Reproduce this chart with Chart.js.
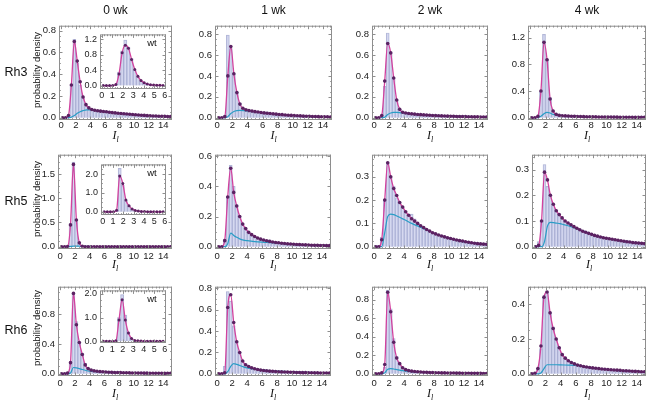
<!DOCTYPE html>
<html>
<head>
<meta charset="utf-8">
<script src="https://cdn.jsdelivr.net/npm/chart.js@4.4.1/dist/chart.umd.min.js"></script>
<style>
  body { margin: 0; width: 651px; height: 403px; position: relative; overflow: hidden; background: #fff;
         font-family: "Liberation Sans", Arial, sans-serif; color: #111; }
  .panel { position: absolute; }
  .lbl { position: absolute; transform: translate(-50%, -50%); white-space: nowrap; }
  .col { font-size: 12px; }
  .row { font-size: 12.5px; }
  .pd { font-size: 9.5px; transform: translate(-50%, -50%) rotate(-90deg); }
  .il { font-family: "Liberation Serif", "Times New Roman", serif; font-style: italic; font-size: 12px; }
  .il sub { font-size: 8px; vertical-align: -3px; }
  .wt { font-size: 9.5px; }
</style>
</head>
<body>
<script>
// bin centres: main panels 0.4 wide, wt insets 0.3 wide
const binX = [0.2, 0.6, 1.0, 1.4, 1.8, 2.2, 2.6, 3.0, 3.4, 3.8,
              4.2, 4.6, 5.0, 5.4, 5.8, 6.2, 6.6, 7.0, 7.4, 7.8,
              8.2, 8.6, 9.0, 9.4, 9.8, 10.2, 10.6, 11.0, 11.4, 11.8,
              12.2, 12.6, 13.0, 13.4, 13.8, 14.2, 14.6, 15.0];
const insetX = [0.15, 0.45, 0.75, 1.05, 1.35, 1.65, 1.95, 2.25, 2.55, 2.85,
                3.15, 3.45, 3.75, 4.05, 4.35, 4.65, 4.95, 5.25, 5.55, 5.85];
const compX = [0, 1.0, 1.4, 1.8, 2.2, 2.6, 3.0, 3.5, 4, 5, 6, 7, 8, 10, 12, 15];

const weeks = ['0 wk', '1 wk', '2 wk', '4 wk'];
const rhodopsins = ['Rh3', 'Rh5', 'Rh6'];
const xTicks = [0, 2, 4, 6, 8, 10, 12, 14];
const insetXTicks = [0, 1, 2, 3, 4, 5, 6];
const yTicks = [
  [[0, 0.2, 0.4, 0.6, 0.8], [0, 0.2, 0.4, 0.6, 0.8], [0, 0.2, 0.4, 0.6, 0.8], [0, 0.4, 0.8, 1.2]],
  [[0, 0.5, 1.0, 1.5], [0, 0.2, 0.4, 0.6], [0, 0.1, 0.2, 0.3], [0, 0.1, 0.2, 0.3]],
  [[0, 0.4, 0.8], [0, 0.2, 0.4, 0.6, 0.8], [0, 0.2, 0.4, 0.6, 0.8], [0, 0.2, 0.4]]
];
const insetYTicks = [[0, 0.4, 0.8, 1.2], [0, 1.0, 2.0], [0, 1.0, 2.0]];

// ---- Rh3 ----
const rh3_0wk_hist = [0, 0, 0.01, 0.3, 0.72, 0.5, 0.3, 0.18, 0.11, 0.085,
  0.07, 0.068, 0.065, 0.06, 0.058, 0.055, 0.05, 0.048, 0.045, 0.042,
  0.04, 0.045, 0.035, 0.032, 0.03, 0.027, 0.025, 0.022, 0.02, 0.018,
  0.017, 0.015, 0.014, 0.012, 0.012, 0.011, 0.01, 0.01];
const rh3_0wk_fit = [0, 0, 0.02, 0.3, 0.7, 0.52, 0.33, 0.19, 0.12, 0.09,
  0.075, 0.068, 0.064, 0.06, 0.057, 0.054, 0.05, 0.047, 0.044, 0.041,
  0.038, 0.036, 0.034, 0.031, 0.029, 0.027, 0.025, 0.023, 0.021, 0.019,
  0.018, 0.016, 0.015, 0.014, 0.013, 0.012, 0.011, 0.01];
const rh3_0wk_comp = [0, 0, 0.005, 0.02, 0.04, 0.055, 0.065, 0.072, 0.072, 0.062, 0.055, 0.048, 0.041, 0.028, 0.019, 0.011];

const rh3_1wk_hist = [0, 0, 0.02, 0.79, 0.66, 0.42, 0.24, 0.14, 0.09, 0.075,
  0.07, 0.065, 0.06, 0.055, 0.05, 0.048, 0.055, 0.042, 0.038, 0.035,
  0.032, 0.03, 0.027, 0.025, 0.022, 0.02, 0.018, 0.016, 0.015, 0.013,
  0.012, 0.011, 0.01, 0.009, 0.008, 0.008, 0.007, 0.007];
const rh3_1wk_fit = [0, 0, 0.01, 0.4, 0.68, 0.42, 0.24, 0.13, 0.09, 0.075,
  0.068, 0.063, 0.058, 0.054, 0.05, 0.046, 0.043, 0.04, 0.037, 0.034,
  0.031, 0.029, 0.026, 0.024, 0.022, 0.02, 0.018, 0.017, 0.015, 0.014,
  0.013, 0.012, 0.011, 0.01, 0.009, 0.008, 0.008, 0.007];
const rh3_1wk_comp = [0, 0, 0.01, 0.04, 0.06, 0.068, 0.07, 0.068, 0.064, 0.055, 0.046, 0.04, 0.033, 0.021, 0.0135, 0.007];

const rh3_2wk_hist = [0, 0, 0.02, 0.3, 0.81, 0.63, 0.38, 0.17, 0.08, 0.05,
  0.045, 0.04, 0.037, 0.035, 0.032, 0.03, 0.028, 0.026, 0.024, 0.022,
  0.02, 0.019, 0.018, 0.017, 0.016, 0.015, 0.014, 0.013, 0.012, 0.011,
  0.01, 0.01, 0.009, 0.009, 0.008, 0.008, 0.007, 0.007];
const rh3_2wk_fit = [0, 0, 0.02, 0.35, 0.71, 0.62, 0.38, 0.17, 0.08, 0.052,
  0.045, 0.04, 0.037, 0.034, 0.031, 0.029, 0.027, 0.025, 0.023, 0.021,
  0.02, 0.019, 0.017, 0.016, 0.015, 0.014, 0.013, 0.012, 0.011, 0.011,
  0.01, 0.009, 0.009, 0.008, 0.008, 0.007, 0.007, 0.007];
const rh3_2wk_comp = [0, 0, 0.005, 0.03, 0.045, 0.05, 0.05, 0.047, 0.043, 0.036, 0.03, 0.026, 0.023, 0.018, 0.013, 0.007];

const rh3_4wk_hist = [0, 0, 0.02, 0.4, 1.25, 0.87, 0.3, 0.1, 0.05, 0.035,
  0.03, 0.028, 0.025, 0.023, 0.02, 0.018, 0.017, 0.016, 0.015, 0.014,
  0.013, 0.012, 0.011, 0.01, 0.01, 0.009, 0.009, 0.008, 0.008, 0.007,
  0.007, 0.006, 0.006, 0.006, 0.005, 0.005, 0.005, 0.005];
const rh3_4wk_fit = [0, 0, 0.02, 0.4, 1.13, 0.87, 0.28, 0.1, 0.05, 0.035,
  0.03, 0.027, 0.024, 0.022, 0.02, 0.018, 0.017, 0.016, 0.015, 0.014,
  0.013, 0.012, 0.011, 0.01, 0.01, 0.009, 0.009, 0.008, 0.008, 0.007,
  0.007, 0.006, 0.006, 0.006, 0.005, 0.005, 0.005, 0.005];
const rh3_4wk_comp = [0, 0, 0.02, 0.06, 0.08, 0.07, 0.05, 0.04, 0.034, 0.026, 0.02, 0.017, 0.015, 0.011, 0.008, 0.005];

// ---- Rh5 ----
const rh5_0wk_hist = [0, 0, 0, 0.48, 1.75, 0.52, 0.06, 0.01, 0, 0,
  0, 0, 0, 0, 0, 0, 0, 0, 0, 0,
  0, 0, 0, 0, 0, 0, 0, 0, 0, 0,
  0, 0, 0, 0, 0, 0, 0, 0];
const rh5_0wk_fit = [0, 0, 0.005, 0.45, 1.7, 0.55, 0.08, 0.01, 0, 0,
  0, 0, 0, 0, 0, 0, 0, 0, 0, 0,
  0, 0, 0, 0, 0, 0, 0, 0, 0, 0,
  0, 0, 0, 0, 0, 0, 0, 0];
const rh5_0wk_comp = [0, 0, 0.005, 0.01, 0.012, 0.01, 0.008, 0.006, 0.005, 0.003, 0.002, 0.001, 0.001, 0, 0, 0];

const rh5_1wk_hist = [0, 0, 0.05, 0.33, 0.54, 0.4, 0.28, 0.2, 0.15, 0.12,
  0.09, 0.075, 0.065, 0.055, 0.05, 0.045, 0.04, 0.045, 0.035, 0.03,
  0.028, 0.025, 0.02, 0.02, 0.018, 0.016, 0.015, 0.014, 0.013, 0.012,
  0.011, 0.01, 0.01, 0.009, 0.009, 0.008, 0.008, 0.007];
const rh5_1wk_fit = [0, 0, 0.04, 0.33, 0.52, 0.36, 0.27, 0.2, 0.15, 0.12,
  0.095, 0.08, 0.068, 0.058, 0.05, 0.044, 0.039, 0.035, 0.031, 0.028,
  0.026, 0.023, 0.021, 0.019, 0.018, 0.016, 0.015, 0.014, 0.013, 0.012,
  0.011, 0.01, 0.009, 0.009, 0.008, 0.008, 0.007, 0.007];
const rh5_1wk_comp = [0, 0, 0.02, 0.09, 0.075, 0.062, 0.052, 0.044, 0.04, 0.034, 0.03, 0.027, 0.024, 0.016, 0.011, 0.007];

const rh5_2wk_hist = [0.005, 0.005, 0.04, 0.2, 0.36, 0.3, 0.26, 0.21, 0.19, 0.17,
  0.15, 0.13, 0.14, 0.12, 0.1, 0.09, 0.082, 0.075, 0.068, 0.062,
  0.055, 0.05, 0.046, 0.042, 0.038, 0.035, 0.032, 0.029, 0.026, 0.024,
  0.021, 0.019, 0.017, 0.015, 0.013, 0.012, 0.011, 0.01];
const rh5_2wk_fit = [0, 0, 0.03, 0.2, 0.36, 0.3, 0.25, 0.22, 0.19, 0.17,
  0.15, 0.135, 0.12, 0.11, 0.1, 0.09, 0.082, 0.074, 0.067, 0.06,
  0.055, 0.05, 0.046, 0.042, 0.038, 0.035, 0.032, 0.029, 0.026, 0.024,
  0.021, 0.019, 0.017, 0.015, 0.013, 0.012, 0.011, 0.01];
const rh5_2wk_comp = [0, 0, 0.06, 0.13, 0.14, 0.138, 0.132, 0.124, 0.117, 0.1, 0.086, 0.072, 0.058, 0.037, 0.021, 0.01];

const rh5_4wk_hist = [0.005, 0.02, 0.1, 0.32, 0.235, 0.2, 0.165, 0.14, 0.125, 0.11,
  0.1, 0.092, 0.085, 0.078, 0.07, 0.066, 0.06, 0.056, 0.052, 0.048,
  0.044, 0.041, 0.038, 0.035, 0.033, 0.031, 0.029, 0.026, 0.024, 0.022,
  0.025, 0.026, 0.02, 0.016, 0.015, 0.014, 0.013, 0.012];
const rh5_4wk_fit = [0, 0.005, 0.1, 0.29, 0.26, 0.2, 0.165, 0.14, 0.125, 0.112,
  0.1, 0.092, 0.085, 0.078, 0.072, 0.066, 0.06, 0.056, 0.052, 0.048,
  0.044, 0.041, 0.038, 0.035, 0.033, 0.031, 0.029, 0.027, 0.025, 0.023,
  0.021, 0.019, 0.018, 0.016, 0.015, 0.014, 0.013, 0.012];
const rh5_4wk_comp = [0, 0, 0.02, 0.08, 0.095, 0.094, 0.092, 0.09, 0.086, 0.078, 0.068, 0.058, 0.046, 0.032, 0.021, 0.011];

// ---- Rh6 ----
const rh6_0wk_hist = [0, 0, 0.01, 0.13, 1.09, 0.7, 0.42, 0.28, 0.14, 0.07,
  0.05, 0.04, 0.034, 0.03, 0.027, 0.024, 0.022, 0.02, 0.018, 0.017,
  0.016, 0.015, 0.014, 0.013, 0.012, 0.011, 0.01, 0.01, 0.009, 0.009,
  0.008, 0.008, 0.007, 0.007, 0.007, 0.006, 0.006, 0.006];
const rh6_0wk_fit = [0, 0, 0.01, 0.15, 1.08, 0.66, 0.42, 0.26, 0.12, 0.07,
  0.05, 0.04, 0.034, 0.03, 0.027, 0.024, 0.022, 0.02, 0.018, 0.017,
  0.016, 0.015, 0.014, 0.013, 0.012, 0.011, 0.01, 0.01, 0.009, 0.009,
  0.008, 0.008, 0.007, 0.007, 0.007, 0.006, 0.006, 0.006];
const rh6_0wk_comp = [0, 0, 0.01, 0.085, 0.08, 0.07, 0.058, 0.045, 0.036, 0.028, 0.024, 0.02, 0.017, 0.012, 0.009, 0.006];

const rh6_1wk_hist = [0, 0.005, 0.07, 0.77, 0.68, 0.45, 0.3, 0.2, 0.12, 0.08,
  0.07, 0.056, 0.047, 0.04, 0.035, 0.031, 0.028, 0.025, 0.023, 0.021,
  0.02, 0.018, 0.017, 0.016, 0.015, 0.014, 0.013, 0.012, 0.011, 0.011,
  0.01, 0.01, 0.009, 0.009, 0.008, 0.008, 0.008, 0.007];
const rh6_1wk_fit = [0, 0, 0.01, 0.62, 0.74, 0.48, 0.3, 0.2, 0.12, 0.085,
  0.068, 0.056, 0.047, 0.04, 0.035, 0.031, 0.028, 0.025, 0.023, 0.021,
  0.02, 0.018, 0.017, 0.016, 0.015, 0.014, 0.013, 0.012, 0.011, 0.011,
  0.01, 0.01, 0.009, 0.009, 0.008, 0.008, 0.008, 0.007];
const rh6_1wk_comp = [0, 0, 0.02, 0.07, 0.095, 0.088, 0.078, 0.065, 0.055, 0.045, 0.037, 0.03, 0.025, 0.018, 0.013, 0.008];

const rh6_2wk_hist = [0, 0, 0.01, 0.07, 0.9, 0.7, 0.38, 0.19, 0.11, 0.065,
  0.045, 0.035, 0.029, 0.025, 0.022, 0.019, 0.017, 0.016, 0.014, 0.013,
  0.012, 0.011, 0.01, 0.01, 0.009, 0.008, 0.008, 0.007, 0.007, 0.006,
  0.006, 0.006, 0.005, 0.005, 0.005, 0.005, 0.004, 0.004];
const rh6_2wk_fit = [0, 0, 0.01, 0.1, 0.88, 0.67, 0.34, 0.17, 0.11, 0.065,
  0.045, 0.035, 0.029, 0.025, 0.022, 0.019, 0.017, 0.016, 0.014, 0.013,
  0.012, 0.011, 0.01, 0.01, 0.009, 0.008, 0.008, 0.007, 0.007, 0.006,
  0.006, 0.006, 0.005, 0.005, 0.005, 0.005, 0.004, 0.004];
const rh6_2wk_comp = [0, 0, 0.01, 0.05, 0.056, 0.052, 0.046, 0.038, 0.032, 0.024, 0.019, 0.015, 0.012, 0.009, 0.006, 0.004];

const rh6_4wk_hist = [0, 0.005, 0.03, 0.145, 0.44, 0.47, 0.35, 0.27, 0.2, 0.15,
  0.11, 0.09, 0.075, 0.065, 0.057, 0.05, 0.046, 0.042, 0.039, 0.036,
  0.034, 0.032, 0.03, 0.028, 0.026, 0.025, 0.023, 0.022, 0.021, 0.02,
  0.018, 0.017, 0.016, 0.015, 0.014, 0.013, 0.012, 0.012];
const rh6_4wk_fit = [0, 0.003, 0.03, 0.16, 0.44, 0.47, 0.35, 0.26, 0.2, 0.15,
  0.11, 0.09, 0.075, 0.065, 0.057, 0.05, 0.046, 0.042, 0.039, 0.036,
  0.034, 0.032, 0.03, 0.028, 0.026, 0.025, 0.023, 0.022, 0.021, 0.02,
  0.018, 0.017, 0.016, 0.015, 0.014, 0.013, 0.012, 0.012];
const rh6_4wk_comp = [0, 0, 0.005, 0.03, 0.052, 0.052, 0.052, 0.052, 0.051, 0.05, 0.048, 0.042, 0.036, 0.026, 0.018, 0.012];

// ---- wild type insets (0 wk) ----
const wt_rh3_hist = [0, 0, 0, 0, 0.02, 0.35, 0.9, 1.18, 1.0, 0.7, 0.4, 0.22, 0.12, 0.06, 0.03, 0.02, 0.01, 0.01, 0.005, 0.005];
const wt_rh3_fit  = [0, 0, 0, 0, 0.03, 0.3, 0.85, 1.05, 0.97, 0.68, 0.42, 0.24, 0.13, 0.07, 0.04, 0.02, 0.012, 0.008, 0.005, 0.004];
const wt_rh5_hist = [0, 0, 0, 0, 0.05, 2.3, 1.4, 0.6, 0.3, 0.15, 0.06, 0.03, 0.02, 0.01, 0.01, 0.005, 0, 0, 0, 0];
const wt_rh5_fit  = [0, 0, 0, 0, 0.08, 1.9, 1.5, 0.62, 0.32, 0.15, 0.07, 0.04, 0.02, 0.01, 0.006, 0.004, 0.002, 0, 0, 0];
const wt_rh6_hist = [0, 0, 0, 0, 0.02, 1.0, 1.96, 1.1, 0.4, 0.12, 0.04, 0.02, 0.01, 0.005, 0, 0, 0, 0, 0, 0];
const wt_rh6_fit  = [0, 0, 0, 0, 0.02, 0.9, 1.75, 0.9, 0.35, 0.12, 0.04, 0.02, 0.01, 0.005, 0, 0, 0, 0, 0, 0];

const panelData = [
  [[rh3_0wk_hist, rh3_0wk_fit, rh3_0wk_comp], [rh3_1wk_hist, rh3_1wk_fit, rh3_1wk_comp],
   [rh3_2wk_hist, rh3_2wk_fit, rh3_2wk_comp], [rh3_4wk_hist, rh3_4wk_fit, rh3_4wk_comp]],
  [[rh5_0wk_hist, rh5_0wk_fit, rh5_0wk_comp], [rh5_1wk_hist, rh5_1wk_fit, rh5_1wk_comp],
   [rh5_2wk_hist, rh5_2wk_fit, rh5_2wk_comp], [rh5_4wk_hist, rh5_4wk_fit, rh5_4wk_comp]],
  [[rh6_0wk_hist, rh6_0wk_fit, rh6_0wk_comp], [rh6_1wk_hist, rh6_1wk_fit, rh6_1wk_comp],
   [rh6_2wk_hist, rh6_2wk_fit, rh6_2wk_comp], [rh6_4wk_hist, rh6_4wk_fit, rh6_4wk_comp]]
];
const insetData = [[wt_rh3_hist, wt_rh3_fit], [wt_rh5_hist, wt_rh5_fit], [wt_rh6_hist, wt_rh6_fit]];

// layout: plot frames [left, top, right, bottom] and y-axis tops
const frames = [
  [[59, 24, 172, 120], [215, 24, 332, 120], [372, 24, 488, 120], [528, 24, 646, 120]],
  [[58, 153, 172, 249], [215, 153, 331, 249], [372, 153, 488, 249], [532, 153, 646, 249]],
  [[58, 285, 172, 376], [215, 285, 331, 376], [372, 285, 488, 376], [528, 285, 646, 376]]
];
const yTops = [[0.845, 0.88, 0.88, 1.38], [1.9, 0.61, 0.395, 0.358], [1.17, 0.815, 0.94, 0.5]];
const insetFrames = [[100, 33, 166, 89], [101, 163, 166, 215], [100, 289, 166, 343]];
const insetY = [[-0.09, 1.33], [-0.17, 2.51], [-0.07, 2.14]];
const rowMid = [72, 201, 330];
const ilY = [136, 265, 394];
const xPad = [0, 2, 2];

Chart.defaults.font.family = '"Liberation Sans", Arial, sans-serif';
Chart.defaults.color = '#222';

const framePlugin = {
  id: 'frame',
  beforeDatasetsDraw(chart, args, opts) {
    if (!opts.fill) return;
    const { ctx, chartArea: a } = chart;
    ctx.save();
    ctx.fillStyle = '#fff';
    ctx.fillRect(a.left, a.top, a.right - a.left, a.bottom - a.top);
    ctx.restore();
  },
  afterDraw(chart, args, opts) {
    const { ctx, chartArea: a, scales } = chart;
    ctx.save();
    ctx.strokeStyle = '#8e8e8e';
    ctx.lineWidth = 1;
    ctx.strokeRect(a.left + 0.5, a.top + 0.5, a.right - a.left - 1, a.bottom - a.top - 1);
    const marks = (scale, ticks) => {
      const step = ticks[1] - ticks[0], m = step / 4, out = [];
      let v = ticks[0] - Math.floor((ticks[0] - scale.min) / m + 1e-9) * m;
      for (; v <= scale.max + 1e-9; v += m) {
        const k = (v - ticks[0]) / step;
        const major = Math.abs(k - Math.round(k)) < 0.01;
        out.push([Math.round(scale.getPixelForValue(v)) + 0.5, major ? 3.5 : 1.8]);
      }
      return out;
    };
    ctx.beginPath();
    marks(scales.x, opts.xt).forEach(([px, len]) => {
      ctx.moveTo(px, a.bottom); ctx.lineTo(px, a.bottom - len);
      ctx.moveTo(px, a.top); ctx.lineTo(px, a.top + len);
    });
    marks(scales.y, opts.yt).forEach(([py, len]) => {
      ctx.moveTo(a.left, py); ctx.lineTo(a.left + len, py);
      ctx.moveTo(a.right, py); ctx.lineTo(a.right - len, py);
    });
    ctx.stroke();
    ctx.restore();
  }
};

function makePanel(frame, o) {
  const yw = o.inset ? 17 : 24, xh = o.inset ? 11 : 14, pt = 7, pr = 7;
  const div = document.createElement('div');
  div.className = 'panel';
  div.style.left = (frame[0] - yw) + 'px';
  div.style.top = (frame[1] - pt) + 'px';
  div.style.width = (frame[2] - frame[0] + yw + pr) + 'px';
  div.style.height = (frame[3] - frame[1] + pt + xh) + 'px';
  const canvas = document.createElement('canvas');
  div.appendChild(canvas);
  document.body.appendChild(div);

  const fs = o.inset ? 9 : 9.5;
  const datasets = [
    {
      type: 'bar', data: o.hist.map((v, i) => ({ x: o.bx[i], y: v })),
      backgroundColor: 'rgba(186, 191, 230, 0.6)', borderColor: 'rgba(150, 156, 196, 0.75)', borderWidth: 0.5,
      barPercentage: 1, categoryPercentage: 1, order: 3
    },
    {
      type: 'line', data: o.fit.map((v, i) => ({ x: o.bx[i], y: v })),
      borderColor: '#d2429e', borderWidth: 1.3, cubicInterpolationMode: 'monotone',
      pointRadius: o.inset ? 1.5 : 1.8, pointBackgroundColor: '#5b2262', pointBorderWidth: 0, order: 1
    }
  ];
  if (o.comp) {
    datasets.push({
      type: 'line', data: o.comp.map((v, i) => ({ x: compX[i], y: v })),
      borderColor: '#2a9dc6', borderWidth: 1.2, cubicInterpolationMode: 'monotone',
      pointRadius: 0, order: 2
    });
  }

  new Chart(canvas, {
    type: 'bar',
    data: { datasets },
    plugins: [framePlugin],
    options: {
      responsive: true, maintainAspectRatio: false, animation: false,
      layout: { padding: { left: 0, top: pt, right: pr, bottom: 0 } },
      plugins: { legend: { display: false }, tooltip: { enabled: false },
                 frame: { xt: o.xt, yt: o.yt, fill: !!o.inset } },
      scales: {
        x: {
          type: 'linear', min: o.xmin, max: o.xmax, offset: false,
          grid: { display: false, drawTicks: false }, border: { display: false },
          afterBuildTicks: s => { s.ticks = o.xt.map(v => ({ value: v })); },
          afterFit: s => { s.height = xh; },
          ticks: { autoSkip: false, maxRotation: 0, minRotation: 0, padding: o.xpad,
                   font: { size: fs }, color: '#222', callback: v => String(v) }
        },
        y: {
          type: 'linear', min: o.ymin, max: o.ymax,
          grid: { display: false, drawTicks: false }, border: { display: false },
          afterBuildTicks: s => { s.ticks = o.yt.map(v => ({ value: v })); },
          afterFit: s => { s.width = yw; },
          ticks: { autoSkip: false, padding: 3, font: { size: fs }, color: '#222',
                   callback: v => Number(v).toFixed(1) }
        }
      }
    }
  });
}

function addLabel(html, x, y, cls) {
  const d = document.createElement('div');
  d.className = 'lbl ' + cls;
  d.style.left = x + 'px';
  d.style.top = y + 'px';
  d.innerHTML = html;
  document.body.appendChild(d);
}

// main grid
for (let r = 0; r < 3; r++) {
  for (let c = 0; c < 4; c++) {
    const f = frames[r][c];
    const [hist, fit, comp] = panelData[r][c];
    makePanel(f, {
      bx: binX, hist, fit, comp, xt: xTicks, yt: yTicks[r][c], xpad: xPad[r],
      xmin: -0.3, xmax: 15.2, ymin: -0.025 * yTops[r][c], ymax: yTops[r][c]
    });
    addLabel('<i>I</i><sub>l</sub>', (f[0] + f[2]) / 2, ilY[r], 'il');
  }
  addLabel(rhodopsins[r], 16, rowMid[r], 'row');
  addLabel('probability density', 36, rowMid[r] - 2, 'pd');
  // wild type inset in the 0 wk column
  const fi = insetFrames[r];
  makePanel(fi, {
    inset: true, bx: insetX, hist: insetData[r][0], fit: insetData[r][1], xpad: 1,
    xt: insetXTicks, yt: insetYTicks[r], xmin: -0.16, xmax: 6.13, ymin: insetY[r][0], ymax: insetY[r][1]
  });
  addLabel('wt', fi[2] - 14, fi[1] + 9, 'wt');
}
weeks.forEach((w, c) => addLabel(w, (frames[0][c][0] + frames[0][c][2]) / 2, 10, 'col'));
</script>
</body>
</html>
